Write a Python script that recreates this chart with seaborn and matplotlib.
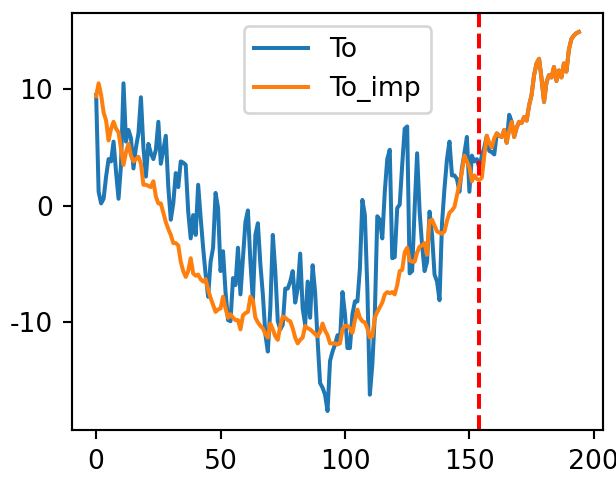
import numpy as np
import pandas as pd
import matplotlib
matplotlib.use("Agg")
import matplotlib.pyplot as plt
import seaborn as sns

plt.rcParams['axes.unicode_minus'] = False

# observed series (with gaps filled later by imputation)
to_vals = [
    9.5, 1.2, 0.2, 0.6, 2.5, 4.0, 3.8, 5.5, 2.9, 0.6,
    3.5, 10.5, 5.5, 6.5, 5.8, 3.2, 5.0, 6.2, 9.3, 5.0,
    2.5, 5.3, 4.5, 4.0, 4.8, 7.2, 3.6, 4.8, 6.0, 1.6,
    -1.2, 0.2, 2.8, 1.6, 3.8, 3.7, 3.5, -0.5, -2.8, -0.8,
    -2.5, 1.8, -1.0, -3.6, -5.9, -7.8, -4.8, -3.6, 1.1, -0.2,
    -5.6, -3.9, -7.4, -9.8, -9.9, -6.2, -6.8, -3.6, -7.6, -4.5,
    -1.4, -0.4, -4.8, -8.2, -2.5, -1.5, -5.0, -7.6, -11.0, -12.5,
    -8.8, -2.5, -5.6, -9.9, -10.6, -10.2, -7.1, -7.1, -6.5, -5.6,
    -8.3, -7.1, -4.1, -8.8, -10.2, -6.5, -9.6, -5.1, -7.4, -11.5,
    -15.2, -15.6, -16.2, -17.6, -13.3, -12.5, -11.9, -11.1, -11.6, -7.4,
    -9.3, -12.2, -12.2, -9.3, -8.2, -8.2, -5.4, 0.5, -0.8, -7.1,
    -16.2, -13.6, -9.3, -0.9, -1.2, -2.8, 1.2, 4.0, 4.8, -4.5,
    -4.4, -0.2, 0.1, 3.5, 6.6, 6.8, -5.8, -5.6, -0.2, 4.5,
    -0.5, -3.4, -5.6, -4.8, -0.5, -2.5, -5.9, -6.5, -8.1, -1.5,
    1.5, 4.0, 5.5, 2.6, 2.6, 2.3, 1.2, 3.2, 4.5, 5.9,
    1.2, 4.3, 3.8, 4.0, 3.2, 4.3, 5.0, 6.0, 4.7, 4.6,
    4.4, 6.2, 6.0, 5.9, 6.5, 5.4, 7.8, 7.2, 5.9, 6.7,
    7.2, 7.1, 7.6, 7.3, 8.6, 9.5, 11.2, 12.2, 12.6, 10.9,
    8.9, 10.6, 11.2, 11.0, 11.9, 10.7, 11.6, 11.0, 12.2, 11.5,
    13.4, 14.3, 14.6, 14.8, 14.9,
]

to_imp_vals = [
    9.4, 10.5, 9.5, 8.0, 7.3, 5.6, 6.6, 7.2, 6.6, 6.3,
    4.9, 3.5, 4.6, 5.3, 4.3, 3.8, 4.0, 4.2, 3.6, 1.8,
    1.8, 1.7, 1.6, 2.1, 0.8, 0.2, 0.2, -0.6, -1.4, -2.0,
    -2.5, -3.2, -3.2, -3.4, -4.8, -5.6, -6.1, -5.6, -4.5, -5.8,
    -6.0, -5.9, -6.3, -6.5, -6.3, -7.2, -7.9, -8.5, -9.1, -8.9,
    -8.8, -7.8, -8.8, -9.6, -9.3, -9.6, -9.8, -9.8, -10.6, -9.4,
    -9.2, -9.1, -7.8, -8.1, -9.6, -10.0, -10.3, -10.5, -11.0, -11.3,
    -10.1, -10.6, -11.2, -11.5, -10.3, -9.5, -9.6, -9.8, -9.9, -10.5,
    -11.3, -11.8, -11.5, -11.3, -10.3, -10.5, -10.6, -10.8, -11.0, -11.2,
    -10.8, -10.1, -10.7, -11.1, -11.8, -11.8, -11.8, -11.9, -11.8, -10.6,
    -10.3, -10.3, -10.5, -10.9, -9.8, -8.9, -9.6, -9.9, -10.0, -10.5,
    -11.3, -11.2, -9.6, -9.1, -8.7, -8.3, -7.6, -7.4, -7.5, -7.4,
    -7.6, -6.8, -5.6, -5.5, -4.0, -3.6, -4.7, -4.8, -4.8, -4.0,
    -3.5, -3.4, -3.2, -4.2, -1.3, -1.2, -1.7, -2.2, -2.3, -2.4,
    -2.2, -1.3, -0.6, -0.4, -0.1, 0.9, 1.8, 2.9, 4.3, 3.8,
    3.3, 2.1, 2.6, 2.3, 2.2, 2.4, 4.3, 6.0, 5.4, 5.0,
    5.8, 6.2, 6.0, 5.9, 6.5, 5.4, 6.4, 7.2, 5.9, 6.7,
    7.2, 7.1, 7.6, 7.3, 8.6, 9.5, 11.2, 12.2, 12.6, 10.9,
    8.9, 10.6, 11.2, 11.0, 11.9, 10.7, 11.6, 11.0, 12.2, 11.5,
    13.4, 14.3, 14.6, 14.8, 14.9,
]

split_idx = 154

df = pd.DataFrame({
    'idx': np.arange(len(to_vals)),
    'To': to_vals,
    'To_imp': to_imp_vals,
})
long_df = df.melt(id_vars='idx', var_name='series', value_name='value')

fig, ax = plt.subplots(figsize=(616 / 192, 483 / 192), dpi=192)
fig.subplots_adjust(left=72 / 616, right=603 / 616, bottom=1 - 430 / 483, top=1 - 13 / 483)

sns.lineplot(data=long_df, x='idx', y='value', hue='series',
             palette=['#1f77b4', '#ff7f0e'], linewidth=1.5, ax=ax)
ax.axvline(split_idx, color='red', linestyle='--', linewidth=1.5)

ax.set_xlabel('')
ax.set_ylabel('')
ax.set_xticks([0, 50, 100, 150, 200])
ax.set_yticks([-10, 0, 10])
ax.legend(loc='upper center')

plt.savefig('out.png', dpi=192)
plt.close()
